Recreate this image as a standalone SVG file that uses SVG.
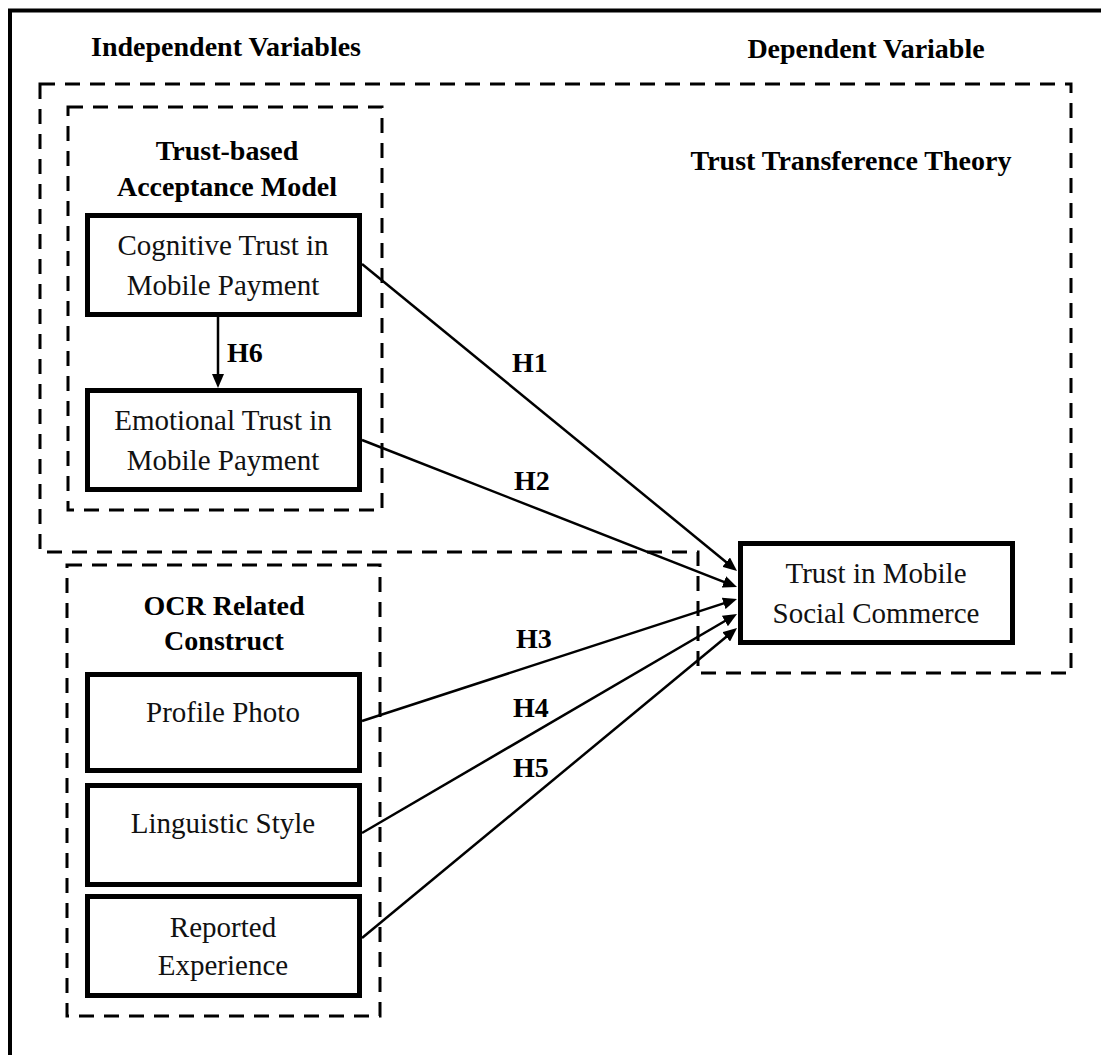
<svg xmlns="http://www.w3.org/2000/svg" width="1101" height="1055" viewBox="0 0 1101 1055">
  <style>
    .frame { stroke: #000; stroke-width: 4; fill: none; }
    .group { stroke: #000; stroke-width: 3; stroke-dasharray: 15 10; fill: none; }
    .node { stroke: #000; stroke-width: 5; fill: #fff; }
    .edge { stroke: #000; stroke-width: 2.5; fill: none; marker-end: url(#arrow); }
    .head { font-family: "Liberation Serif", "Times New Roman", serif; font-weight: bold; font-size: 28px; fill: #000; text-anchor: middle; }
    .label { font-family: "Liberation Serif", "Times New Roman", serif; font-size: 29px; fill: #111; text-anchor: middle; }
    .hyp { font-family: "Liberation Serif", "Times New Roman", serif; font-weight: bold; font-size: 28px; fill: #000; }
  </style>
  <defs>
    <marker id="arrow" viewBox="0 0 14 12" refX="8" refY="6" markerWidth="14" markerHeight="12" markerUnits="userSpaceOnUse" orient="auto">
      <path d="M0,0 L14,6 L0,12 Z" fill="#000"/>
    </marker>
  </defs>

  <rect width="1101" height="1055" fill="#fff"/>

  <!-- page frame (top and left edges) -->
  <path class="frame" d="M10,1055 V10.5 H1101"/>

  <!-- column headings -->
  <text class="head" x="226" y="56">Independent Variables</text>
  <text class="head" x="866" y="58">Dependent Variable</text>

  <!-- grouping regions -->
  <g id="trust-transference-theory">
    <path class="group" d="M40,84 H1071 V673 H698 V552 H40 Z"/>
    <text class="head" x="851" y="170">Trust Transference Theory</text>
  </g>
  <g id="trust-based-acceptance-model">
    <rect class="group" x="68" y="107" width="314" height="403"/>
    <text class="head" x="227" y="160">Trust-based</text>
    <text class="head" x="227" y="196">Acceptance Model</text>
  </g>
  <g id="ocr-related-construct">
    <rect class="group" x="67" y="565" width="313" height="451"/>
    <text class="head" x="224" y="615">OCR Related</text>
    <text class="head" x="224" y="650">Construct</text>
  </g>

  <!-- connectors -->
  <g id="connectors">
    <line class="edge" x1="218" y1="317" x2="218" y2="382"/>
    <line class="edge" x1="362" y1="264" x2="732.4" y2="567.2"/>
    <line class="edge" x1="362" y1="440" x2="731.4" y2="584.8"/>
    <line class="edge" x1="362" y1="721" x2="731.3" y2="600.9"/>
    <line class="edge" x1="362" y1="833" x2="731.8" y2="617.0"/>
    <line class="edge" x1="362" y1="938" x2="732.4" y2="631.8"/>
    <text class="hyp" x="227" y="362">H6</text>
    <text class="hyp" x="512" y="372">H1</text>
    <text class="hyp" x="514" y="490">H2</text>
    <text class="hyp" x="516" y="648">H3</text>
    <text class="hyp" x="513" y="717">H4</text>
    <text class="hyp" x="513" y="777">H5</text>
  </g>

  <!-- constructs -->
  <g id="cognitive-trust">
    <rect class="node" x="87.5" y="215.5" width="272" height="99"/>
    <text class="label" x="223" y="255">Cognitive Trust in</text>
    <text class="label" x="223" y="295">Mobile Payment</text>
  </g>
  <g id="emotional-trust">
    <rect class="node" x="87.5" y="390.5" width="272" height="99"/>
    <text class="label" x="223" y="430">Emotional Trust in</text>
    <text class="label" x="223" y="470">Mobile Payment</text>
  </g>
  <g id="profile-photo">
    <rect class="node" x="87.5" y="674.5" width="272" height="96"/>
    <text class="label" x="223" y="722">Profile Photo</text>
  </g>
  <g id="linguistic-style">
    <rect class="node" x="87.5" y="785.5" width="272" height="99"/>
    <text class="label" x="223" y="833">Linguistic Style</text>
  </g>
  <g id="reported-experience">
    <rect class="node" x="87.5" y="896.5" width="272" height="99"/>
    <text class="label" x="223" y="937">Reported</text>
    <text class="label" x="223" y="975">Experience</text>
  </g>
  <g id="trust-in-mobile-social-commerce">
    <rect class="node" x="740.5" y="543.5" width="272" height="99"/>
    <text class="label" x="876" y="583">Trust in Mobile</text>
    <text class="label" x="876" y="623">Social Commerce</text>
  </g>
</svg>
